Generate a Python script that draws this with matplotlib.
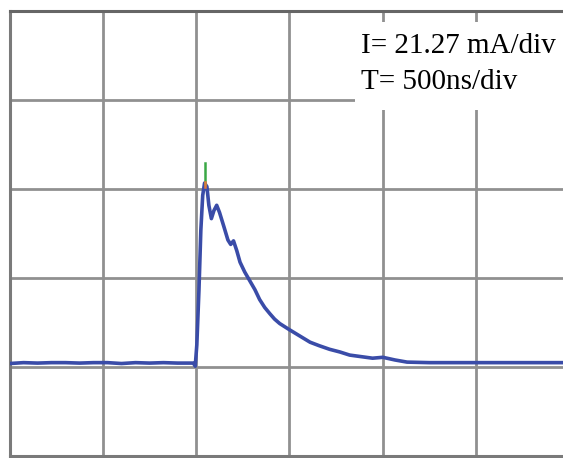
import matplotlib
matplotlib.use("Agg")
import matplotlib.pyplot as plt
from matplotlib.patches import Rectangle

# trace in screen divisions (x: time div, y: current div from bottom edge)
time_div = [0.00, 0.15, 0.30, 0.45, 0.60, 0.75, 0.90, 1.05, 1.20, 1.35, 1.50,
            1.65, 1.80, 1.97, 1.99, 2.007, 2.03, 2.05, 2.07, 2.09, 2.115,
            2.136, 2.163, 2.19, 2.22, 2.25, 2.297, 2.34, 2.37, 2.40, 2.435,
            2.47, 2.52, 2.575, 2.63, 2.68, 2.735, 2.79, 2.84, 2.895, 3.00,
            3.11, 3.22, 3.32, 3.43, 3.54, 3.645, 3.75, 3.89, 4.00, 4.13,
            4.26, 4.50, 4.80, 5.10, 5.40, 5.70, 5.93]
current_div = [1.04, 1.05, 1.045, 1.05, 1.05, 1.045, 1.05, 1.05, 1.04, 1.05, 1.045,
               1.05, 1.045, 1.045, 1.01, 1.25, 1.87, 2.54, 2.93, 3.07, 3.03,
               2.82, 2.67, 2.76, 2.82, 2.74, 2.58, 2.43, 2.38, 2.42, 2.31,
               2.18, 2.07, 1.97, 1.87, 1.76, 1.67, 1.60, 1.54, 1.49, 1.42,
               1.35, 1.28, 1.24, 1.20, 1.17, 1.135, 1.12, 1.10, 1.11, 1.08,
               1.056, 1.05, 1.05, 1.05, 1.05, 1.05, 1.05]

x_grid = [0, 1, 2, 3, 4, 5]
y_grid = [0, 1, 2, 3, 4, 5]
label_lines = ["I= 21.27 mA/div", "T= 500ns/div"]

fig = plt.figure(figsize=(5.63, 4.58), dpi=100)
ax = fig.add_axes([0.0169, 0.0044, 0.983, 0.9705])
ax.set_xlim(0, 5.93)
ax.set_ylim(0, 5)

ax.set_xticks(x_grid)
ax.set_yticks(y_grid)
ax.tick_params(length=0, labelbottom=False, labelleft=False)
ax.set_axisbelow(True)
ax.grid(True, color="#909090", linewidth=2.0)

for side in ["top", "left", "bottom"]:
    ax.spines[side].set_color("#7a7a7a")
    ax.spines[side].set_linewidth(2.2)
ax.spines["top"].set_color("#666666")
ax.spines["right"].set_visible(False)

# white label box that hides the grid
ax.add_patch(Rectangle((3.70, 3.89), 2.3, 0.99, facecolor="white",
                       edgecolor="none", zorder=1))

ax.plot(time_div, current_div, color="#3a4ca8", linewidth=2.6, zorder=3)
ax.plot([2.09, 2.09], [3.06, 3.30], color="#3aa845", linewidth=1.8, zorder=4)
ax.plot([2.09, 2.09], [3.03, 3.08], color="#e07a3a", linewidth=1.8, zorder=4)

ax.text(3.77, 4.61, label_lines[0], family="Liberation Serif", fontsize=21,
        va="center", ha="left", zorder=5)
ax.text(3.77, 4.21, label_lines[1], family="Liberation Serif", fontsize=21,
        va="center", ha="left", zorder=5)

fig.savefig("out.png", dpi=100)
